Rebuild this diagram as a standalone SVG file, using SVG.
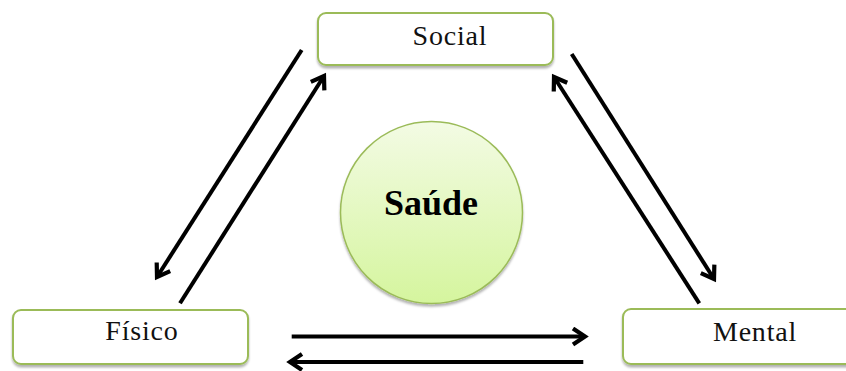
<svg xmlns="http://www.w3.org/2000/svg" width="846" height="371" viewBox="0 0 846 371">
<style>
.box{fill:#fff;stroke:#9bbb59;stroke-width:2;}
.lbl{font-family:"Liberation Serif","DejaVu Serif",serif;font-size:28px;fill:#111;text-anchor:middle;letter-spacing:0.8px;}
.ctr{font-family:"Liberation Serif","DejaVu Serif",serif;font-size:36px;font-weight:bold;fill:#000;text-anchor:middle;}
.arr{stroke:#000;stroke-width:4;fill:none;marker-end:url(#ah);}
</style>
<defs>
<marker id="ah" markerUnits="userSpaceOnUse" viewBox="0 0 20 20" markerWidth="20" markerHeight="20" refX="16" refY="10" orient="auto">
<path d="M4,2 L16,10 L4,18" fill="none" stroke="#000" stroke-width="4.2" stroke-linejoin="miter" stroke-miterlimit="3"/>
</marker>
<filter id="sh" x="-10%" y="-10%" width="120%" height="130%">
<feDropShadow dx="0" dy="2.5" stdDeviation="1.2" flood-color="#000" flood-opacity="0.3"/>
</filter>
<linearGradient id="cg" x1="0" y1="0" x2="0" y2="1">
<stop offset="0" stop-color="#f3fbe4"/>
<stop offset="1" stop-color="#d5f59e"/>
</linearGradient>
</defs>
<g id="connectors">
<line class="arr" x1="301.7" y1="50" x2="157" y2="277"/>
<line class="arr" x1="180" y1="303.3" x2="324" y2="76"/>
<line class="arr" x1="571.7" y1="54" x2="714" y2="279"/>
<line class="arr" x1="699.3" y1="303.3" x2="554" y2="77"/>
<line class="arr" x1="291.7" y1="336.5" x2="585" y2="336.5"/>
<line class="arr" x1="583.3" y1="362" x2="290" y2="362"/>
</g>
<g id="social">
<rect class="box" x="318" y="13" width="235" height="52" rx="8" filter="url(#sh)"/>
<text class="lbl" x="450" y="45">Social</text>
</g>
<g id="fisico">
<rect class="box" x="13" y="310" width="235" height="54" rx="8" filter="url(#sh)"/>
<text class="lbl" x="142" y="340">Físico</text>
</g>
<g id="mental">
<rect class="box" x="623" y="309" width="235" height="55" rx="8" filter="url(#sh)"/>
<text class="lbl" x="755" y="341">Mental</text>
</g>
<g id="saude">
<circle cx="431.5" cy="212.5" r="91" fill="url(#cg)" stroke="#9bbb59" stroke-width="1.5" filter="url(#sh)"/>
<text class="ctr" x="431" y="215">Saúde</text>
</g>
</svg>
